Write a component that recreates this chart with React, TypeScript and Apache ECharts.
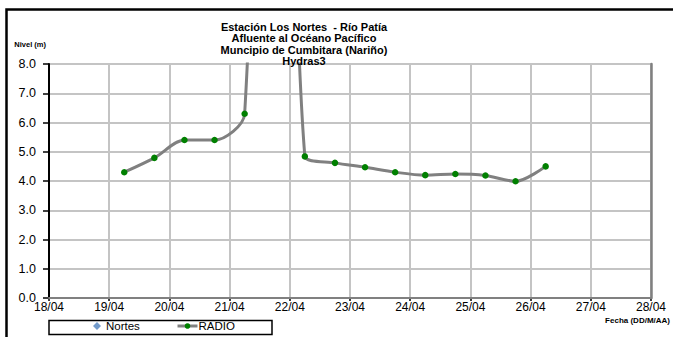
import React, { useEffect, useRef } from "react";
import * as echarts from "echarts";

const FONT = "'Liberation Sans', Arial, sans-serif";

const titleLines = [
  "Estación Los Nortes  - Río Patía",
  "Afluente al Océano Pacífico",
  "Muncipio de Cumbitara (Nariño)",
  "Hydras3",
];

// reading times (DD/MM HH)
const radioTimes = [
  "19/04 06", "19/04 18", "20/04 06", "20/04 18", "21/04 06", "21/04 18",
  "22/04 06", "22/04 18", "23/04 06", "23/04 18", "24/04 06", "24/04 18",
  "25/04 06", "25/04 18", "26/04 06",
];
// level in metres (21/04 18h is far above the scale)
const radioValues = [
  4.3, 4.79, 5.4, 5.4, 6.3, 40.0,
  4.84, 4.62, 4.47, 4.3, 4.2, 4.24,
  4.19, 3.99, 4.5,
];
const nortesValues: number[][] = [];

const YEAR = 2012;
const xStart = "18/04";
const xEnd = "28/04";
const yTicks = [0, 1, 2, 3, 4, 5, 6, 7, 8];

const DAY = 86400000;
function toTs(s: string): number {
  const [dm, hh] = s.split(" ");
  const [d, m] = dm.split("/").map(Number);
  return Date.UTC(YEAR, m - 1, d, hh ? Number(hh) : 0);
}
function fmt(ts: number): string {
  const d = new Date(ts);
  const dd = String(d.getUTCDate()).padStart(2, "0");
  const mm = String(d.getUTCMonth() + 1).padStart(2, "0");
  return `${dd}/${mm}`;
}

export default function App() {
  const ref = useRef<HTMLDivElement>(null);
  useEffect(() => {
    if (!ref.current) return;
    const chart = echarts.init(ref.current, null, { renderer: "svg" });
    const xMin = toTs(xStart);
    const xMax = toTs(xEnd);
    const yMin = yTicks[0];
    const yMax = yTicks[yTicks.length - 1];
    chart.setOption({
      animation: false,
      backgroundColor: "#ffffff",
      title: {
        text: titleLines.join("\n"),
        left: 299,
        top: 16,
        textAlign: "center",
        textStyle: {
          fontFamily: FONT,
          fontSize: 11,
          fontWeight: "bold",
          lineHeight: 11.4,
          color: "#000",
        },
      },
      legend: [
        {
          data: ["Nortes"],
          left: 93,
          top: 320,
          padding: 0,
          itemWidth: 8,
          itemHeight: 8,
          textStyle: { fontFamily: FONT, fontSize: 11.5, color: "#000" },
        },
        {
          data: ["RADIO"],
          left: 176,
          top: 320,
          padding: 0,
          itemWidth: 20,
          itemHeight: 7,
          itemGap: 0,
          lineStyle: { color: "#808080", width: 3 },
          textStyle: { fontFamily: FONT, fontSize: 11.5, color: "#000", padding: [0, 0, 0, -4] },
        },
      ],
      grid: { left: 49, right: 22, top: 64, bottom: 39 },
      xAxis: [
        {
          type: "value",
          min: xMin,
          max: xMax,
          interval: DAY,
          name: "Fecha (DD/M/AA)",
          nameLocation: "end",
          nameGap: 19,
          nameTextStyle: {
            fontFamily: FONT,
            fontSize: 8,
            fontWeight: "bold",
            color: "#000",
            align: "right",
            verticalAlign: "top",
            padding: [18, 0, 0, 0],
          },
          axisLine: { show: true, lineStyle: { color: "#000", width: 2 } },
          axisTick: { show: true, length: 3, lineStyle: { color: "#000", width: 1.5 } },
          axisLabel: {
            formatter: (v: number) => fmt(v),
            fontFamily: FONT,
            fontSize: 12,
            color: "#000",
            margin: 3,
          },
          splitLine: { show: true, lineStyle: { color: "#c4c4c4", width: 2 } },
        },
        {
          type: "value",
          position: "top",
          min: xMin,
          max: xMax,
          interval: DAY,
          z: 3,
          axisLine: { show: true, lineStyle: { color: "#808080", width: 2 } },
          axisTick: { show: false },
          axisLabel: { show: false },
          splitLine: { show: false },
        },
      ],
      yAxis: [
        {
          type: "value",
          min: yMin,
          max: yMax,
          interval: 1,
          name: "Nivel (m)",
          nameLocation: "end",
          nameGap: 16,
          nameTextStyle: {
            fontFamily: FONT,
            fontSize: 7.5,
            fontWeight: "bold",
            color: "#000",
            align: "right",
            verticalAlign: "bottom",
            padding: [0, 3, 0, 0],
          },
          axisLine: { show: true, lineStyle: { color: "#000", width: 2 } },
          axisTick: { show: true, length: 6, lineStyle: { color: "#000", width: 1.5 } },
          axisLabel: {
            formatter: (v: number) => v.toFixed(1),
            fontFamily: FONT,
            fontSize: 12.5,
            color: "#000",
            margin: 13,
          },
          splitLine: { show: true, lineStyle: { color: "#c4c4c4", width: 2 } },
        },
        {
          type: "value",
          position: "right",
          min: yMin,
          max: yMax,
          interval: 1,
          z: 3,
          axisLine: { show: true, lineStyle: { color: "#808080", width: 2.5 } },
          axisTick: { show: false },
          axisLabel: { show: false },
          splitLine: { show: false },
        },
      ],
      series: [
        {
          name: "Nortes",
          type: "scatter",
          symbol: "diamond",
          symbolSize: 8,
          itemStyle: { color: "#4f81bd" },
          data: nortesValues,
        },
        {
          name: "RADIO",
          type: "line",
          xAxisIndex: 0,
          yAxisIndex: 0,
          smooth: 0.3,
          clip: true,
          symbol: "circle",
          symbolSize: 6.5,
          showSymbol: true,
          itemStyle: { color: "#008000" },
          lineStyle: { color: "#808080", width: 3 },
          data: radioTimes.map((t, i) => [toTs(t), radioValues[i]]),
          z: 4,
        },
      ],
      graphic: [
        {
          type: "polyline",
          shape: { points: [[6.5, 337], [6.5, 9.5], [673, 9.5]] },
          style: { stroke: "#000", lineWidth: 2.5, fill: null },
          silent: true,
        },
        {
          type: "rect",
          shape: { x: 49, y: 320.5, width: 223, height: 14 },
          style: { stroke: "#000", lineWidth: 1.5, fill: null },
          silent: true,
        },
      ],
    });
    return () => chart.dispose();
  }, []);
  return (
    <div
      ref={ref}
      style={{ position: "absolute", left: 0, top: 0, width: 673, height: 337 }}
    />
  );
}
